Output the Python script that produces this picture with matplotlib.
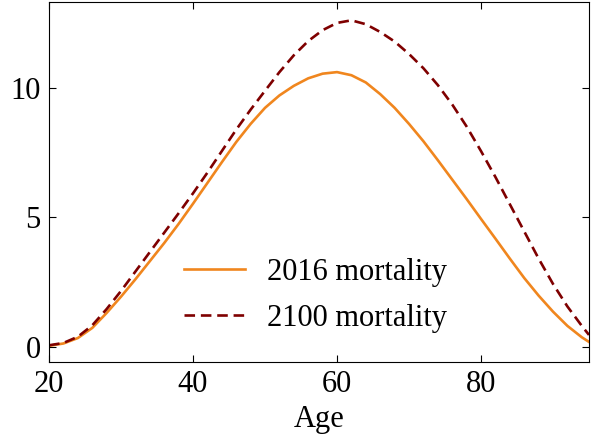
import numpy as np
from matplotlib import pyplot as plt

# data (every 2 years of age)
ages = [20, 22, 24, 26, 28, 30, 32, 34, 36, 38, 40, 42, 44, 46, 48, 50, 52, 54,
        56, 58, 60, 62, 64, 66, 68, 70, 72, 74, 76, 78, 80, 82, 84, 86, 88, 90,
        92, 94, 95]
mort_2016 = [0.03, 0.12, 0.33, 0.72, 1.3, 1.93, 2.6, 3.3, 4.0, 4.74, 5.52,
             6.32, 7.12, 7.9, 8.6, 9.22, 9.7, 10.07, 10.36, 10.54, 10.6, 10.48,
             10.2, 9.75, 9.22, 8.6, 7.93, 7.2, 6.45, 5.7, 4.93, 4.17, 3.4, 2.65,
             1.97, 1.35, 0.8, 0.36, 0.18]
mort_2100 = [0.05, 0.14, 0.38, 0.82, 1.45, 2.15, 2.9, 3.65, 4.4, 5.15, 5.92,
             6.72, 7.55, 8.38, 9.15, 9.88, 10.6, 11.25, 11.8, 12.22, 12.5, 12.6,
             12.45, 12.15, 11.78, 11.3, 10.75, 10.1, 9.35, 8.5, 7.55, 6.55, 5.5,
             4.45, 3.4, 2.42, 1.55, 0.8, 0.45]

plt.rcParams['font.family'] = ['Liberation Serif', 'DejaVu Serif']

fig = plt.figure(figsize=(5.91, 4.40), dpi=100)
ax = fig.add_axes([0.083, 0.177, 0.9136, 0.818])

ax.plot(ages, mort_2016, color='#f0861e', lw=1.9, label='2016 mortality')
ax.plot(ages, mort_2100, color='#7f0000', lw=1.9, ls=(0, (4, 2.2)),
        label='2100 mortality')

ax.set_xlim(20, 95)
ax.set_ylim(-0.6, 13.3)
ax.set_xticks([20, 40, 60, 80])
ax.set_yticks([0, 5, 10])
ax.tick_params(direction='in', top=True, right=True, labelsize=22, length=5,
               width=0.8, pad=6)
ax.set_xlabel('Age', fontsize=22, labelpad=4)

ax.legend(loc='center', bbox_to_anchor=(0.494, 0.185), frameon=False,
          fontsize=22, handlelength=2.0, labelspacing=0.55, handletextpad=0.72,
          borderpad=0.2)

fig.savefig('out.png', dpi=100)
